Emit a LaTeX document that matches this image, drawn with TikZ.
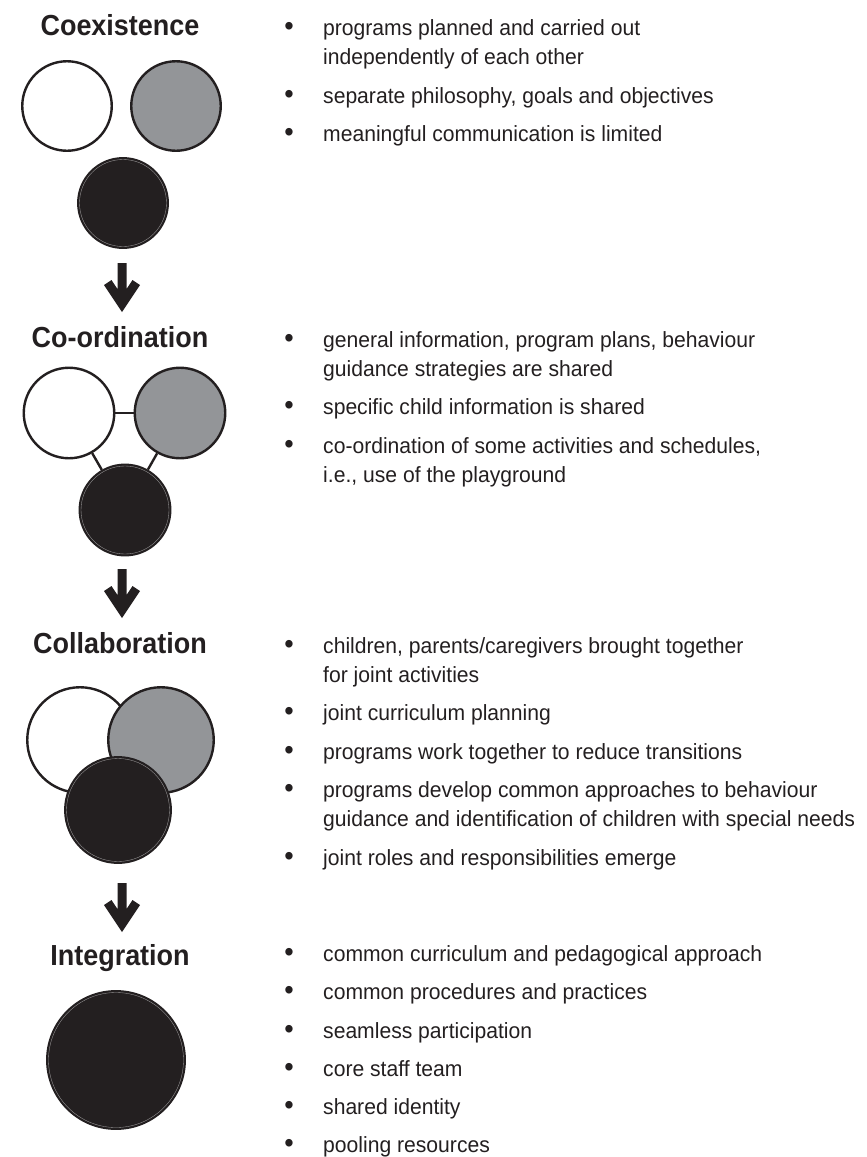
\documentclass[tikz,border=0pt]{standalone}
\usepackage{fontspec}
\setmainfont{Liberation Sans}[FakeStretch=0.96]
\newfontfamily\titlefont{Liberation Sans}[FakeStretch=0.93]
\definecolor{ink}{HTML}{231F20}
\definecolor{midgray}{HTML}{939598}
\tikzset{
  ring/.style={circle, draw=ink, line width=2.4pt, inner sep=0pt},
  whitec/.style={ring, fill=white},
  grayc/.style={ring, fill=midgray},
  blackc/.style={ring, fill=ink},
  hair/.style={draw=white!55!ink, line width=0.35pt},
  conn/.style={draw=ink, line width=2.4pt},
  title/.style={anchor=base, inner sep=0pt, text=ink, font=\titlefont\bfseries\fontsize{29}{29}\selectfont},
  txt/.style={anchor=base west, inner sep=0pt, text=ink, font=\fontsize{22}{26}\selectfont},
  bul/.style={anchor=center, inner sep=0pt, text=ink, font=\fontsize{28}{28}\selectfont},
  downarrow/.pic={\fill[ink] (0,0) -- (-18,-27) -- (-10.5,-32) -- (-4.5,-23) -- (-4.5,-49) -- (4.5,-49) -- (4.5,-23) -- (10.5,-32) -- (18,-27) -- cycle;}
}
\begin{document}
\begin{tikzpicture}[x=1pt,y=-1pt]
\useasboundingbox (0,0) rectangle (867,1157);

% ---------- Coexistence ----------
\node[title] (t1) at (120,35) {Coexistence};
\node[whitec, minimum size=89.5pt] (cw1) at (67,106) {};
\node[grayc,  minimum size=89.5pt] (cg1) at (176,106) {};
\node[blackc, minimum size=89.5pt] (cb1) at (123,203) {};
\draw[hair] (cb1.center) circle[radius=43.5pt];
\coordinate (a1) at (122,312);
\pic at (a1) {downarrow};

\node[bul] (b11) at (289,28.5) {\textbullet};
\node[txt] (l11) at (323,35) {programs planned and carried out};
\node[txt] (l12) at (323,64) {independently of each other};
\node[bul] (b13) at (289,96.5) {\textbullet};
\node[txt] (l13) at (323,103) {separate philosophy, goals and objectives};
\node[bul] (b14) at (289,134.5) {\textbullet};
\node[txt] (l14) at (323,141) {meaningful communication is limited};

% ---------- Co-ordination ----------
\node[title] (t2) at (120,347) {Co-ordination};
\node[whitec, minimum size=90.5pt] (cw2) at (69,413) {};
\node[grayc,  minimum size=90.5pt] (cg2) at (180,413) {};
\node[blackc, minimum size=90.5pt] (cb2) at (125,510) {};
\draw[conn] (cw2) -- (cg2);
\draw[conn] (cw2) -- (cb2);
\draw[conn] (cg2) -- (cb2);
\draw[hair] (cb2.center) circle[radius=44pt];
\coordinate (a2) at (122,618);
\pic at (a2) {downarrow};

\node[bul] (b21) at (289,340.5) {\textbullet};
\node[txt] (l21) at (323,347) {general information, program plans, behaviour};
\node[txt] (l22) at (323,376) {guidance strategies are shared};
\node[bul] (b23) at (289,407.5) {\textbullet};
\node[txt] (l23) at (323,414) {specific child information is shared};
\node[bul] (b24) at (289,446.5) {\textbullet};
\node[txt] (l24) at (323,453) {co-ordination of some activities and schedules,};
\node[txt] (l25) at (323,482) {i.e., use of the playground};

% ---------- Collaboration ----------
\node[title] (t3) at (120,653) {Collaboration};
\node[whitec, minimum size=105.5pt] (cw3) at (80,740) {};
\node[grayc,  minimum size=105.5pt] (cg3) at (161,740) {};
\node[blackc, minimum size=105.5pt] (cb3) at (118,810) {};
\draw[hair] (cb3.center) circle[radius=51.5pt];
\coordinate (a3) at (122,932);
\pic at (a3) {downarrow};

\node[bul] (b31) at (289,646.5) {\textbullet};
\node[txt] (l31) at (323,653) {children, parents/caregivers brought together};
\node[txt] (l32) at (323,682) {for joint activities};
\node[bul] (b33) at (289,713.5) {\textbullet};
\node[txt] (l33) at (323,720) {joint curriculum planning};
\node[bul] (b34) at (289,752.5) {\textbullet};
\node[txt] (l34) at (323,759) {programs work together to reduce transitions};
\node[bul] (b35) at (289,790.5) {\textbullet};
\node[txt] (l35) at (323,797) {programs develop common approaches to behaviour};
\node[txt] (l36) at (323,826) {guidance and identification of children with special needs};
\node[bul] (b37) at (289,858.5) {\textbullet};
\node[txt] (l37) at (323,865) {joint roles and responsibilities emerge};

% ---------- Integration ----------
\node[title] (t4) at (120,965) {Integration};
\node[blackc, minimum size=137.5pt] (cb4) at (116,1060) {};
\draw[hair] (cb4.center) circle[radius=67.5pt];

\node[bul] (b41) at (289,954.5) {\textbullet};
\node[txt] (l41) at (323,961) {common curriculum and pedagogical approach};
\node[bul] (b42) at (289,992.5) {\textbullet};
\node[txt] (l42) at (323,999) {common procedures and practices};
\node[bul] (b43) at (289,1031.5) {\textbullet};
\node[txt] (l43) at (323,1038) {seamless participation};
\node[bul] (b44) at (289,1069.5) {\textbullet};
\node[txt] (l44) at (323,1076) {core staff team};
\node[bul] (b45) at (289,1107.5) {\textbullet};
\node[txt] (l45) at (323,1114) {shared identity};
\node[bul] (b46) at (289,1145.5) {\textbullet};
\node[txt] (l46) at (323,1152) {pooling resources};
\end{tikzpicture}
\end{document}
